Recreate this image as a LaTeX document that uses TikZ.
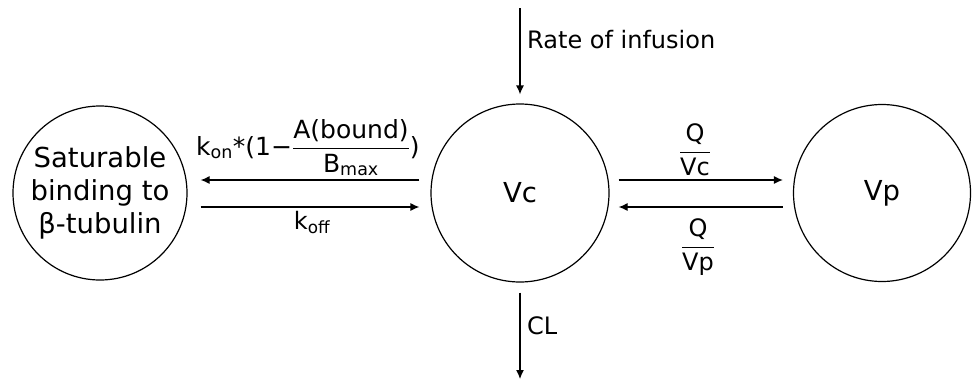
\documentclass[tikz,border=0pt]{standalone}
\usepackage{amsmath}
\usepackage{fontspec}
\setmainfont{DejaVu Sans}
\usetikzlibrary{arrows.meta}
\begin{document}
\begin{tikzpicture}[x=1pt,y=-1pt,
  comp/.style={draw,circle,line width=1.2pt,inner sep=0pt,align=center,font=\fontsize{27.5}{33}\selectfont},
  flow/.style={draw,line width=1.2pt,-{Latex[length=9pt,width=8pt]}},
  lbl/.style={font=\fontsize{24}{28}\selectfont,inner sep=0pt}]
\useasboundingbox (0,0) rectangle (973,383);
\node[comp,minimum size=174pt] (sat) at (100,193) {Saturable\\binding to\\β-tubulin};
\node[comp,minimum size=178pt] (vc) at (520,193) {Vc};
\node[comp,minimum size=177pt] (vp) at (882,193) {Vp};
\coordinate (inf) at (520,8);
\coordinate (out) at (520,379);
% left pair
\draw[flow] ([xshift=-11pt,yshift=13pt]vc.west) -- ([xshift=13pt,yshift=13pt]sat.east);
\draw[flow] ([xshift=13pt,yshift=-14pt]sat.east) -- ([xshift=-11pt,yshift=-14pt]vc.west);
% right pair
\draw[flow] ([xshift=9pt,yshift=13pt]vc.east) -- ([xshift=-10pt,yshift=13pt]vp.west);
\draw[flow] ([xshift=-10pt,yshift=-14pt]vp.west) -- ([xshift=9pt,yshift=-14pt]vc.east);
% vertical
\draw[flow] (inf) -- ([yshift=9pt]vc.north);
\draw[flow] ([yshift=-10pt]vc.south) -- (out);
% labels
\node[lbl,anchor=west] (rate) at (527,40) {Rate of infusion};
\node[lbl,anchor=west] (cl) at (527,326) {CL};
\node[lbl,font=\fontsize{25}{30}\selectfont,anchor=base west] (kon) at (196,155) {$\displaystyle \text{k}_{\text{on}}\text{*(1−}\frac{\text{A(bound)}}{\text{B}_{\text{max}}}\text{)}$};
\node[lbl,anchor=base] (koff) at (312,229) {$\text{k}_{\text{off}}$};
\node[lbl] (qvc) at (695,150) {$\displaystyle\frac{\text{Q}}{\text{Vc}}$};
\node[lbl] (qvp) at (698,247) {$\displaystyle\frac{\text{Q}}{\text{Vp}}$};
\end{tikzpicture}
\end{document}
